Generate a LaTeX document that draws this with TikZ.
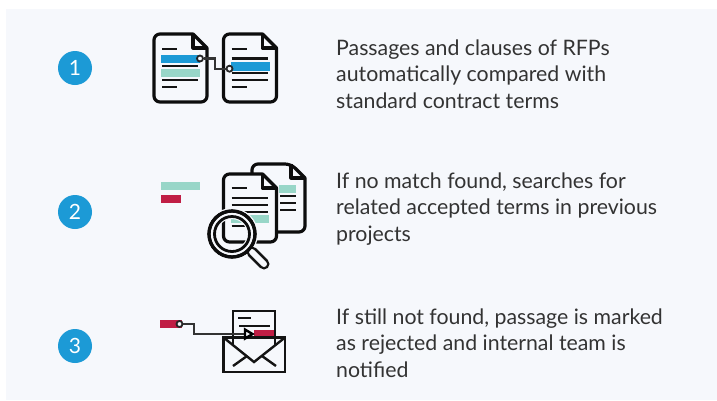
\documentclass[tikz,border=0pt]{standalone}
\usepackage{fontspec}
\setmainfont{Lato}
\usetikzlibrary{positioning}
\definecolor{panelbg}{HTML}{F6F8FC}
\definecolor{stepblue}{HTML}{1C9AD6}
\definecolor{markteal}{HTML}{98D6C8}
\definecolor{markred}{HTML}{C01E45}
\definecolor{inktext}{HTML}{333333}
\tikzset{
    stepdot/.style={circle, fill=stepblue, minimum size=34pt, inner sep=0pt, text=white, font=\fontsize{21}{21}\selectfont},
    steptext/.style={anchor=north west, align=left, inner sep=0pt, text=inktext, font=\fontsize{21.3}{26.5}\selectfont},
    docline/.style={line width=3.2pt, black!95, line join=round},
    textrule/.style={line width=2.7pt, black!92},
    wireline/.style={line width=2.2pt, black!80},
    port/.style={circle, draw=black!85, line width=1.8pt, fill=panelbg, minimum size=6pt, inner sep=0pt},
    mailline/.style={line width=2.4pt, black!92, line join=miter},
}
\begin{document}
\begin{tikzpicture}[x=1pt, y=-1pt]
        \useasboundingbox (0,0) rectangle (717,400);
        \fill[panelbg] (6,9) rectangle (717,400);

        % Step numbers
        \node[stepdot] (num1) at (75,68) {1};
        \node[stepdot] (num2) at (75,212) {2};
        \node[stepdot] (num3) at (75,346) {3};

        % Step texts
        \node[steptext] (text1) at (336,39.5) {Passages and clauses of RFPs\\automatically compared with\\standard contract terms};
        \node[steptext] (text2) at (336,172.5) {If no match found, searches for\\related accepted terms in previous\\projects};
        \node[steptext] (text3) at (336,308.5) {If still not found, passage is marked\\as rejected and internal team is\\notified};

        % Icon 1: two documents
        \begin{scope}[shift={(154,34)}]
            \fill[stepblue] (7,21) rectangle (46,29);
            \fill[markteal] (7,35) rectangle (46,43);
            \draw[docline] (39,0) [rounded corners=6pt] -- (0,0) -- (0,68) -- (53,68) [sharp corners] -- (53,14) -- cycle;
            \draw[docline] (39,0) -- (39,14) -- (53,14);
            \draw[textrule] (8,15) -- (23,15);
            \foreach \y in {32,46} {
                \draw[textrule] (8,\y) -- (44,\y);
            }
            \draw[textrule] (8,53) -- (23,53);
            \node[port] (left) at (46,24.5) {};
        \end{scope}
        \begin{scope}[shift={(223.5,34)}]
            \fill[stepblue] (7.5,28) rectangle (46,37);
            \draw[docline] (39,0) [rounded corners=6pt] -- (0,0) -- (0,68) -- (53,68) [sharp corners] -- (53,14) -- cycle;
            \draw[docline] (39,0) -- (39,14) -- (53,14);
            \draw[textrule] (8,15) -- (23,15);
            \foreach \y in {24.5,39,46} {
                \draw[textrule] (8,\y) -- (44,\y);
            }
            \draw[textrule] (8,53) -- (23,53);
            \node[port] (right) at (6,34.7) {};
        \end{scope}
        \coordinate (bend1) at (215,58.5);
        \draw[wireline] (left) -- (bend1) |- (right);

        % Icon 2: marks, documents and magnifier
        \fill[markteal] (161,182) rectangle (200,190);
        \fill[markred] (161,195) rectangle (181,203);
        \begin{scope}[shift={(252,164)}]
            \fill[markteal] (27,21) rectangle (44,29);
            \draw[docline] (0,10) [rounded corners=6pt] -- (0,0) -- (39,0) [sharp corners] -- (53,14) [rounded corners=6pt] -- (53,68) -- (25,68);
            \draw[docline] (39,0) -- (39,14) -- (53,14);
            \foreach \y in {32,39,46} {
                \draw[textrule] (28,\y) -- (44,\y);
            }
        \end{scope}
        \begin{scope}[shift={(223.5,174)}]
            \draw[docline, fill=panelbg] (39,0) [rounded corners=6pt] -- (0,0) -- (0,68) -- (53,68) [sharp corners] -- (53,14) -- cycle;
            \draw[docline] (39,0) -- (39,14) -- (53,14);
            \draw[textrule] (8,14) -- (23,14);
            \foreach \y in {24,31,38} {
                \draw[textrule] (8,\y) -- (44,\y);
            }
            \fill[markteal] (7.5,41) rectangle (45,49);
            \draw[textrule] (8,52) -- (21,52);
        \end{scope}
        \draw[panelbg, line width=11pt] (232,234) circle (20.5);
        \draw[docline] (232,234) circle (23);
        \draw[docline, line width=2.8pt] (232,234) circle (17.5);
        \draw[line width=11pt, black!92, line cap=round] (252,252) -- (264,264);
        \draw[line width=6pt, panelbg, line cap=round] (252,252) -- (264,264);
        \draw[docline] (232,234) circle (23);

        % Icon 3: envelope with letter
        \fill[markred] (160,320) rectangle (182,328);
        \node[port] (tag) at (179.5,324) {};
        \draw[mailline] (233,346) -- (233,311) -- (275,311) -- (275,346);
        \draw[textrule] (238,318) -- (251,318);
        \draw[textrule] (239,326) -- (270,326);
        \fill[markred] (254,330) rectangle (274,338);
        \draw[mailline] (223.5,337.5) rectangle (285,372);
        \draw[mailline] (223.5,337.5) -- (254,362) -- (285,337.5);
        \draw[mailline] (233,366) -- (247,356);
        \draw[mailline] (276,366) -- (262,356);
        \coordinate (bend3) at (194,334);
        \coordinate (tip3) at (245,334);
        \draw[wireline] (tag) -| (bend3) -- (tip3);
        \draw[line width=2.4pt, black, fill=panelbg, line join=miter] (245,329.5) -- (252.5,334) -- (245,338.5) -- cycle;
\end{tikzpicture}
\end{document}
